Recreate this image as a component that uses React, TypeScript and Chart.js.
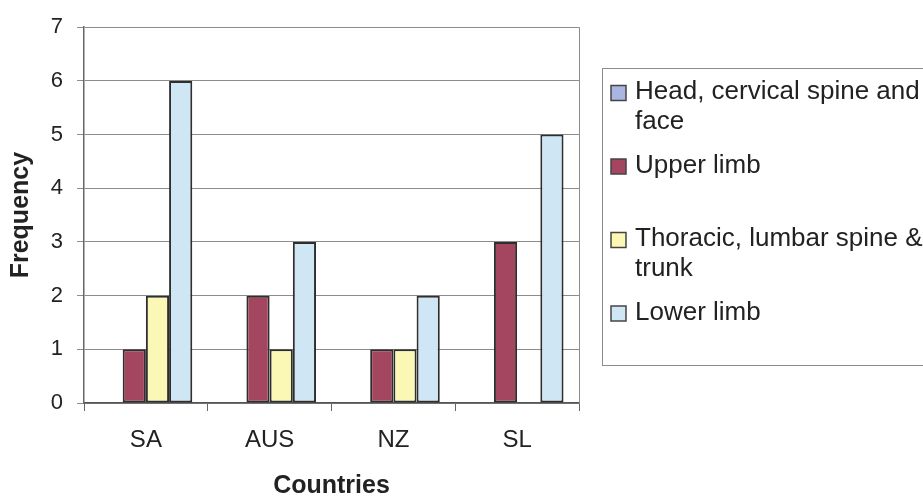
import React, { useEffect, useRef } from "react";
import { Chart, registerables } from "chart.js";

Chart.register(...registerables);

// Injury region frequencies by country
const countries = ["SA", "AUS", "NZ", "SL"];
const seriesNames = [
  "Head, cervical spine and face",
  "Upper limb",
  "Thoracic, lumbar spine & trunk",
  "Lower limb",
];
const headValues = [0, 0, 0, 0];
const upperLimbValues = [1, 2, 1, 3];
const thoracicValues = [2, 1, 1, 0];
const lowerLimbValues = [6, 3, 2, 5];
const yTicks = [0, 1, 2, 3, 4, 5, 6, 7];

const seriesColors = ["#a9b5e3", "#a4465f", "#fbf7b5", "#cfe6f5"];
const barBorder = "#2e2e2e";
const textColor = "#222222";
const FONT = "'Liberation Sans', Arial, sans-serif";

// Plot-area frame (right edge) drawn like a spreadsheet chart
const framePlugin = {
  id: "plotFrame",
  beforeDatasetsDraw(chart: any) {
    const { ctx, chartArea } = chart;
    ctx.save();
    ctx.strokeStyle = "#8c8c8c";
    ctx.lineWidth = 1;
    ctx.beginPath();
    ctx.moveTo(Math.round(chartArea.right) + 0.5, chartArea.top);
    ctx.lineTo(Math.round(chartArea.right) + 0.5, chartArea.bottom);
    ctx.stroke();
    ctx.restore();
  },
};

// Boxed legend to the right of the plot, with wrapped entries
const boxLegendPlugin = {
  id: "boxLegend",
  afterDraw(chart: any) {
    const { ctx } = chart;
    const box = { left: 602, top: 68, right: 940, bottom: 365 };
    const swatch = 15;
    const textX = 635;
    const maxWidth = 290;
    const lineH = 30;
    const firstY = 92;
    const step = 73.5;

    ctx.save();
    ctx.strokeStyle = "#8c8c8c";
    ctx.lineWidth = 1;
    ctx.strokeRect(box.left + 0.5, box.top + 0.5, box.right - box.left, box.bottom - box.top);

    ctx.font = `26px ${FONT}`;
    ctx.textBaseline = "middle";
    ctx.textAlign = "left";

    chart.data.datasets.forEach((ds: any, i: number) => {
      const words = String(ds.label).split(" ");
      const lines: string[] = [];
      let cur = "";
      words.forEach((w) => {
        const test = cur ? cur + " " + w : w;
        if (ctx.measureText(test).width > maxWidth && cur) {
          lines.push(cur);
          cur = w;
        } else {
          cur = test;
        }
      });
      if (cur) lines.push(cur);

      const y = firstY + i * step;
      ctx.fillStyle = ds.backgroundColor;
      ctx.fillRect(611, y - swatch / 2 + 1, swatch, swatch);
      ctx.strokeStyle = "#444444";
      ctx.lineWidth = 1.5;
      ctx.strokeRect(611, y - swatch / 2 + 1, swatch, swatch);

      ctx.fillStyle = textColor;
      lines.forEach((ln, k) => ctx.fillText(ln, textX, y + k * lineH));
    });
    ctx.restore();
  },
};

export default function App() {
  const canvasRef = useRef<HTMLCanvasElement | null>(null);

  useEffect(() => {
    document.body.style.margin = "0";
    const canvas = canvasRef.current;
    if (!canvas) return;

    const valueSets = [headValues, upperLimbValues, thoracicValues, lowerLimbValues];

    const chart = new Chart(canvas, {
      type: "bar",
      data: {
        labels: countries,
        datasets: seriesNames.map((name, i) => ({
          label: name,
          data: valueSets[i],
          backgroundColor: seriesColors[i],
          borderColor: barBorder,
          borderWidth: (c: any) => (c.raw === 0 ? 0 : 2),
          borderSkipped: false,
          categoryPercentage: 0.75,
          barPercentage: 1.0,
        })),
      },
      plugins: [framePlugin, boxLegendPlugin],
      options: {
        responsive: false,
        animation: false,
        maintainAspectRatio: false,
        layout: { padding: { left: 0, top: 25, right: 344, bottom: 0 } },
        plugins: {
          legend: { display: false },
          tooltip: { enabled: false },
        },
        scales: {
          x: {
            grid: {
              offset: true,
              drawOnChartArea: false,
              drawTicks: true,
              tickLength: 8,
              color: "#666666",
            },
            border: { display: true, color: "#555555", width: 1.5 },
            ticks: {
              color: textColor,
              font: { family: FONT, size: 24 },
              padding: 15,
            },
            title: {
              display: true,
              text: "Countries",
              color: textColor,
              font: { family: FONT, size: 25, weight: "bold", lineHeight: 1 },
              padding: { top: 0, bottom: -1 },
            },
            afterFit(scale: any) {
              scale.height = 95;
            },
          },
          y: {
            min: 0,
            max: 7,
            afterBuildTicks(scale: any) {
              scale.ticks = yTicks.map((v) => ({ value: v }));
            },
            grid: {
              color: "#8c8c8c",
              lineWidth: 1,
              tickLength: 7,
              drawTicks: true,
            },
            border: { display: true, color: "#666666", width: 1.5 },
            ticks: {
              color: textColor,
              font: { family: FONT, size: 22 },
              padding: 14,
            },
            title: {
              display: true,
              text: "Frequency",
              color: textColor,
              font: { family: FONT, size: 25, weight: "bold", lineHeight: 1 },
              padding: { top: 9, bottom: 0 },
            },
            afterFit(scale: any) {
              scale.width = 84;
            },
          },
        },
      },
    } as any);

    return () => chart.destroy();
  }, []);

  return (
    <div style={{ width: 923, height: 498, background: "#ffffff" }}>
      <canvas ref={canvasRef} width={923} height={498} style={{ display: "block" }} />
    </div>
  );
}
